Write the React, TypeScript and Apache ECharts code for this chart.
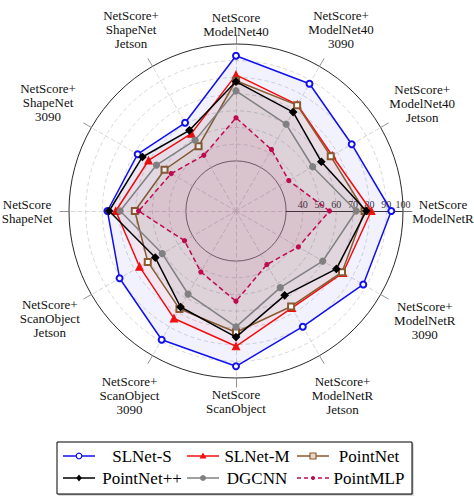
import React, { useEffect, useRef } from 'react';
import * as echarts from 'echarts';

// radar axes, counter-clockwise from the right
const axisNames = [
  'NetScore\nModelNetR',
  'NetScore+\nModelNet40\nJetson',
  'NetScore+\nModelNet40\n3090',
  'NetScore\nModelNet40',
  'NetScore+\nShapeNet\nJetson',
  'NetScore+\nShapeNet\n3090',
  'NetScore\nShapeNet',
  'NetScore+\nScanObject\nJetson',
  'NetScore+\nScanObject\n3090',
  'NetScore\nScanObject',
  'NetScore+\nModelNetR\nJetson',
  'NetScore+\nModelNetR\n3090',
];

const modelNames = ['SLNet-S', 'SLNet-M', 'PointNet', 'PointNet++', 'DGCNN', 'PointMLP'];

const slnetS = [93, 80, 88, 93, 61, 68, 77, 80.5, 89, 93, 80, 88];
const slnetM = [81, 66.5, 73.5, 81.5, 53.5, 60.5, 72, 66.7, 74.3, 81, 67, 74];
const pointNet = [77, 65.5, 73.2, 78, 44.8, 49.4, 60.6, 61, 67.7, 72.6, 66, 73.3];
const pointNetPP = [78, 59, 68.4, 77.5, 55.8, 64.7, 76, 55.8, 66.4, 75.5, 58.3, 69.4];
const dgcnn = [72, 53, 60, 72, 49, 55, 69.4, 51, 57.4, 69.4, 53, 60];
const pointMLP = [56, 36.5, 42.5, 55.8, 38.5, 44.8, 58.3, 35.6, 42.1, 54, 37, 43.1];

const modelValues = [slnetS, slnetM, pointNet, pointNetPP, dgcnn, pointMLP];

const radialTickLabels = [40, 50, 60, 70, 80, 90, 100];

// layout / style
const FONT = "'Liberation Serif', 'Times New Roman', serif";
const CX = 236;
const CY = 211;
const R = 167;
const LABEL_R = [207, 215, 210, 187, 210, 217, 209, 215, 213, 190, 213, 218];

const modelStyles = [
  { color: '#1010f0', symbol: 'emptyCircle', size: 6, dashed: false, fill: 0.055 },
  { color: '#f01010', symbol: 'triangle', size: 7, dashed: false, fill: 0.05 },
  { color: '#8a5a30', symbol: 'emptyRect', size: 6, dashed: false, fill: 0.05 },
  { color: '#000000', symbol: 'diamond', size: 7, dashed: false, fill: 0.04 },
  { color: '#808080', symbol: 'circle', size: 6, dashed: false, fill: 0.05 },
  { color: '#bf0a50', symbol: 'circle', size: 4, dashed: true, fill: 0.07 },
];

const legendCols = [
  { lineX: 63, textX: 142 },
  { lineX: 187, textX: 257 },
  { lineX: 297, textX: 369 },
];
const legendRows = [456, 478];

function legendMarker(i: number, cx: number, cy: number) {
  const s = modelStyles[i];
  const c = s.color;
  if (s.symbol === 'emptyCircle') return { type: 'circle', shape: { cx, cy, r: 2.8 }, style: { fill: '#fff', stroke: c, lineWidth: 1.2 } };
  if (s.symbol === 'triangle') return { type: 'polygon', shape: { points: [[cx, cy - 3.5], [cx + 3.5, cy + 2.5], [cx - 3.5, cy + 2.5]] }, style: { fill: c } };
  if (s.symbol === 'emptyRect') return { type: 'rect', shape: { x: cx - 3, y: cy - 3, width: 6, height: 6 }, style: { fill: '#e9d9c9', stroke: c, lineWidth: 1.2 } };
  if (s.symbol === 'diamond') return { type: 'polygon', shape: { points: [[cx, cy - 3.5], [cx + 2.8, cy], [cx, cy + 3.5], [cx - 2.8, cy]] }, style: { fill: c } };
  return { type: 'circle', shape: { cx, cy, r: s.size / 2 }, style: { fill: c } };
}

const App: React.FC = () => {
  const ref = useRef<HTMLDivElement | null>(null);

  useEffect(() => {
    if (!ref.current) return;
    const chart = echarts.init(ref.current, undefined, { renderer: 'svg' });

    const hidden = 'rgba(0,0,0,0)';
    const base = {
      center: [CX, CY],
      startAngle: 0,
      shape: 'circle',
      axisName: { show: false },
      axisTick: { show: false },
      axisLabel: { show: false },
      splitLine: { show: false },
      splitArea: { show: false },
    };

    // dashed grid circles 40..90, white hole below 30
    const gridColors = Array.from({ length: 11 }, (_, i) => (i >= 4 && i <= 9 ? '#cdcdcd' : hidden));
    const holeColors = Array.from({ length: 10 }, (_, i) => (i < 3 ? '#ffffff' : hidden));
    // solid circles at 30 and 100
    const solidColors = Array.from({ length: 11 }, (_, i) => (i === 3 ? '#5a5a5a' : i === 10 ? '#111111' : hidden));

    const radars: any[] = [
      {
        ...base,
        radius: R,
        splitNumber: 10,
        indicator: axisNames.map((n, i) => (i === 0
          ? { name: n, min: 0, max: 100, axisLabel: { show: true } }
          : { name: n, min: 0, max: 100 })),
        axisLine: { show: true, lineStyle: { color: '#cdcdcd', width: 0.8, type: [4, 3] } },
        axisLabel: {
          show: false, color: '#333', fontSize: 10, fontFamily: FONT, margin: 2,
          formatter: (v: number) => (radialTickLabels.includes(Math.round(v)) ? String(Math.round(v)) : ''),
        },
        splitLine: { show: true, lineStyle: { color: gridColors, width: 0.8, type: [4, 3] } },
        splitArea: { show: true, areaStyle: { color: holeColors } },
      },
      {
        ...base,
        radius: R,
        splitNumber: 10,
        indicator: axisNames.map(() => ({ name: '', min: 0, max: 100 })),
        axisLine: { show: false },
        splitLine: { show: true, lineStyle: { color: solidColors, width: 0.9 } },
      },
      {
        ...base,
        radius: [50, 175],
        indicator: axisNames.map((_, i) => (i === 0
          ? { name: '', max: 100, axisLine: { show: true } }
          : { name: '', max: 100 })),
        axisLine: { show: false, lineStyle: { color: '#222', width: 0.9 } },
      },
      {
        ...base,
        radius: [R, 176],
        indicator: axisNames.map(() => ({ name: '', max: 100 })),
        axisLine: { show: true, lineStyle: { color: '#7a7a7a', width: 0.8 } },
      },
    ];

    const series = modelNames.map((name, i) => {
      const s = modelStyles[i];
      return {
        type: 'radar',
        radarIndex: 0,
        name,
        z: 2 + i,
        symbol: s.symbol,
        symbolSize: s.size,
        lineStyle: { color: s.color, width: 1.5, type: s.dashed ? [5, 3] : 'solid' },
        itemStyle: { color: s.color, borderColor: s.color, borderWidth: 1.2 },
        areaStyle: { color: s.color, opacity: s.fill },
        data: [{ name, value: modelValues[i] }],
      };
    });

    const axisTexts = axisNames.map((n, i) => {
      const a = (i * 30 * Math.PI) / 180;
      return {
        type: 'text',
        style: {
          text: n,
          x: CX + LABEL_R[i] * Math.cos(a),
          y: CY - LABEL_R[i] * Math.sin(a),
          align: 'center',
          verticalAlign: 'middle',
          fontSize: 13,
          lineHeight: 14,
          fontFamily: FONT,
          fill: '#111',
        },
      };
    });

    const legendItems: any[] = [];
    modelNames.forEach((name, i) => {
      const col = legendCols[i % 3];
      const y = legendRows[Math.floor(i / 3)];
      const s = modelStyles[i];
      legendItems.push({
        type: 'line',
        shape: { x1: col.lineX, y1: y, x2: col.lineX + 32, y2: y },
        style: { stroke: s.color, lineWidth: 1.5, lineDash: s.dashed ? [4, 3] : null },
      });
      legendItems.push(legendMarker(i, col.lineX + 16, y));
      legendItems.push({
        type: 'text',
        style: {
          text: name, x: col.textX, y, align: 'center', verticalAlign: 'middle',
          fontSize: 17, fontFamily: FONT, fill: '#000',
        },
      });
    });

    chart.setOption({
      animation: false,
      backgroundColor: '#fff',
      radar: radars,
      series,
      graphic: [
        ...axisTexts,
        { type: 'rect', shape: { x: 58.5, y: 443.5, width: 355, height: 52 }, style: { fill: '#b5b5b5' } },
        { type: 'rect', shape: { x: 57, y: 442, width: 355, height: 52 }, style: { fill: '#fff', stroke: '#000', lineWidth: 1 } },
        ...legendItems,
      ],
    });

    return () => {
      chart.dispose();
    };
  }, []);

  return <div ref={ref} style={{ position: 'fixed', left: 0, top: 0, width: 474, height: 503 }} />;
};

export default App;
